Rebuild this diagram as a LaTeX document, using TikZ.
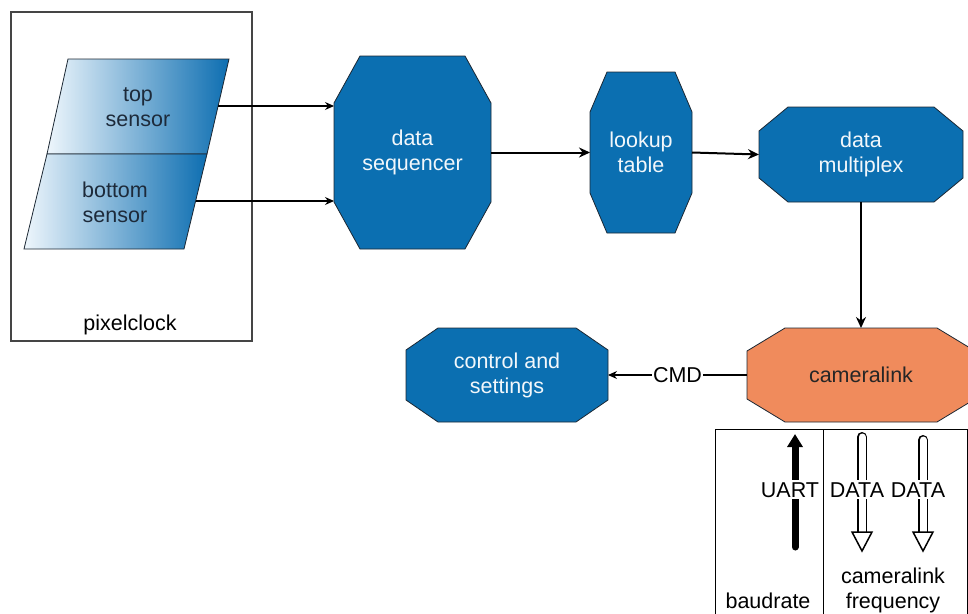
\documentclass[tikz,border=0pt]{standalone}
\usepackage{fontspec}
\setmainfont{Liberation Sans}
\usetikzlibrary{arrows.meta,calc,backgrounds}

\definecolor{boxblue}{HTML}{0B6FB1}
\definecolor{boxedge}{HTML}{1B2733}
\definecolor{boxtext}{HTML}{F2F7FB}
\definecolor{camorange}{HTML}{F08B5C}
\definecolor{sensorlight}{HTML}{EEF6FC}
\definecolor{sensordark}{HTML}{0D6EB1}
\definecolor{sensortext}{HTML}{1D2A3A}
\definecolor{framegray}{HTML}{454545}

% octagonal outline behind a named rectangular node:
% #1 node name, #2 horizontal chamfer, #3 vertical chamfer, #4 fill colour
\newcommand{\drawoct}[4]{%
  \begin{pgfonlayer}{background}
  \draw[boxedge, line width=0.8pt, fill=#4, line join=miter]
    ($(#1.north west)+(#2,0)$) -- ($(#1.north east)+(-#2,0)$)
    -- ($(#1.north east)+(0,#3)$) -- ($(#1.south east)+(0,-#3)$)
    -- ($(#1.south east)+(-#2,0)$) -- ($(#1.south west)+(#2,0)$)
    -- ($(#1.south west)+(0,-#3)$) -- ($(#1.north west)+(0,#3)$) -- cycle;
  \end{pgfonlayer}}

\begin{document}
\begin{tikzpicture}[x=1pt,y=-1pt,
  every node/.style={font=\fontsize{21.5}{25}\selectfont, align=center},
  block/.style={rectangle, text=boxtext, inner sep=0pt, outer sep=0pt},
  thinarrow/.style={-{Stealth[length=9pt,width=8pt]}, line width=1.1pt},
  thickarrow/.style={-{Stealth[length=11pt,width=10pt]}, line width=2pt},
  label/.style={fill=white, inner xsep=0pt, inner ysep=2pt, anchor=base},
  dblshaft/.style={double=white, double distance=7pt, line width=1.5pt, line cap=round},
  openhead/.style={fill=white, draw=black, line width=1.5pt, line join=miter},
]
\useasboundingbox (0,0) rectangle (968,613);
\clip (0,0) rectangle (968,613);

% pixel clock frame around the two sensors
\draw[framegray, line width=1.5pt] (11,12) rectangle (252,341);
\node (clk) at (130,325) {pixelclock};

% sensors (shaded parallelograms)
\shadedraw[left color=sensorlight, right color=sensordark, draw=boxedge, line width=0.8pt]
  (68,59) -- (229,59) -- (207,154) -- (47,154) -- cycle;
\shadedraw[left color=sensorlight, right color=sensordark, draw=boxedge, line width=0.8pt]
  (47,154) -- (207,154) -- (184,249) -- (24,249) -- cycle;
\node[text=sensortext] (topsensor) at (138,107) {top\\sensor};
\node[text=sensortext] (botsensor) at (115,202) {bottom\\sensor};
\coordinate (topout) at (218,106);
\coordinate (botout) at (196,201);

% processing blocks
\node[block, minimum width=157pt, minimum height=193pt] (seq) at (412.5,152.5) {data\\sequencer};
\drawoct{seq}{26}{47}{boxblue}
\node[block, minimum width=102pt, minimum height=161pt] (lut) at (641,152.5) {lookup\\table};
\drawoct{lut}{17}{40}{boxblue}
\node[block, minimum width=204pt, minimum height=95pt] (mux) at (861,154.5) {data\\multiplex};
\drawoct{mux}{29}{24}{boxblue}
\node[block, minimum width=202pt, minimum height=94pt] (ctrl) at (507,375) {control and\\settings};
\drawoct{ctrl}{32}{22}{boxblue}
\node[block, text=black!85, minimum width=228pt, minimum height=94pt] (cam) at (861,375) {cameralink};
\drawoct{cam}{38}{23}{camorange}

% data path
\draw[thinarrow] (topout) -- (topout -| seq.west);
\draw[thinarrow] (botout) -- (botout -| seq.west);
\draw[thickarrow] (seq) -- (lut);
\draw[thickarrow] (lut.east) -- (mux.west);
\draw[thickarrow] (mux) -- (cam);
\draw[thinarrow] (cam) -- node[fill=white, inner xsep=1pt, inner ysep=1pt] (cmd) {CMD} (ctrl);

% interface table below the camera link
\draw[black, line width=1pt] (715,620) -- (715,429) -- (967,429) -- (967,620);
\draw[black, line width=1pt] (823,429) -- (823,620);

% UART line (up to the camera link)
\coordinate (uartlow) at (795,547);
\coordinate (uarttip) at (795,434);
\draw[line width=7pt, line cap=round, -{Triangle[length=13pt,width=15pt]}] (uartlow) -- (uarttip);
\node[label] (uart) at (790,497) {UART};

% DATA lines (down from the camera link)
\coordinate (dataAtop) at (862,437);
\coordinate (dataAtip) at (862,551);
\coordinate (dataBtop) at (923,440);
\coordinate (dataBtip) at (923,551);
\draw[dblshaft] (dataAtop) -- ($(dataAtip)+(0,-19)$);
\draw[openhead] ($(dataAtip)+(-10,-19)$) -- ($(dataAtip)+(10,-19)$) -- (dataAtip) -- cycle;
\draw[dblshaft] (dataBtop) -- ($(dataBtip)+(0,-19)$);
\draw[openhead] ($(dataBtip)+(-10,-19)$) -- ($(dataBtip)+(10,-19)$) -- (dataBtip) -- cycle;
\node[label] (dataA) at (857,497) {DATA};
\node[label] (dataB) at (918,497) {DATA};

\node[anchor=base] (baud) at (768,608) {baudrate};
\node[anchor=base] (clfreq) at (893,583) {cameralink};
\node[anchor=base] (freq) at (893,608) {frequency};
\end{tikzpicture}
\end{document}
